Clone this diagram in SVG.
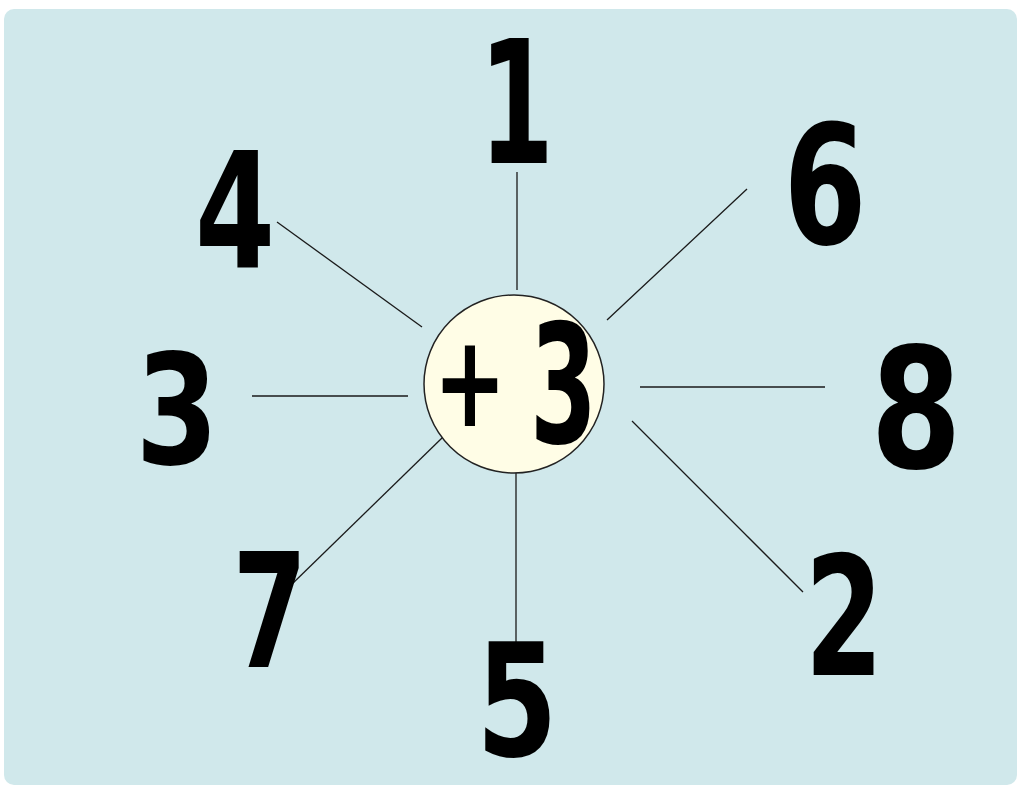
<svg xmlns="http://www.w3.org/2000/svg" width="1022" height="786" viewBox="0 0 1022 786">
<style>
.num{font-family:"DejaVu Sans","Liberation Sans",sans-serif;font-weight:bold;fill:#000;text-anchor:middle}
.conn line{stroke:#1a1a1a;stroke-width:1.3}
</style>
<rect x="0" y="0" width="1022" height="786" fill="#ffffff"/>
<rect x="4" y="9" width="1013" height="776" rx="10" fill="#d0e8eb"/>
<g class="conn" id="connectors">
<line x1="517" y1="172" x2="517" y2="290"/>
<line x1="277" y1="222" x2="422" y2="327"/>
<line x1="747" y1="189" x2="607" y2="320"/>
<line x1="252" y1="396" x2="408" y2="396"/>
<line x1="640" y1="387" x2="825" y2="387"/>
<line x1="443" y1="437" x2="290" y2="586"/>
<line x1="516" y1="470" x2="516" y2="643"/>
<line x1="632" y1="421" x2="803" y2="592"/>
</g>
<g id="center">
<ellipse cx="514" cy="384" rx="90" ry="89" fill="#fffde6" stroke="#222" stroke-width="1.5"/>
<text class="num" font-size="128" transform="translate(470,426) scale(0.68,1)">+</text>
<text class="num" font-size="166" transform="translate(563.5,443) scale(0.58,1)">3</text>
</g>
<g id="n1"><text class="num" font-size="171" transform="translate(516.5,163) scale(0.63,1)">1</text></g>
<g id="n4"><text class="num" font-size="160" transform="translate(235,267) scale(0.72,1)">4</text></g>
<g id="n6"><text class="num" font-size="166" transform="translate(825,244) scale(0.72,1)">6</text></g>
<g id="n3"><text class="num" font-size="153" transform="translate(177,464) scale(0.78,1)">3</text></g>
<g id="n8"><text class="num" font-size="168" transform="translate(916,468) scale(0.78,1)">8</text></g>
<g id="n7"><text class="num" font-size="158" transform="translate(270,667) scale(0.68,1)">7</text></g>
<g id="n5"><text class="num" font-size="156" transform="translate(517,756) scale(0.75,1)">5</text></g>
<g id="n2"><text class="num" font-size="166" transform="translate(844,675) scale(0.68,1)">2</text></g>
</svg>
